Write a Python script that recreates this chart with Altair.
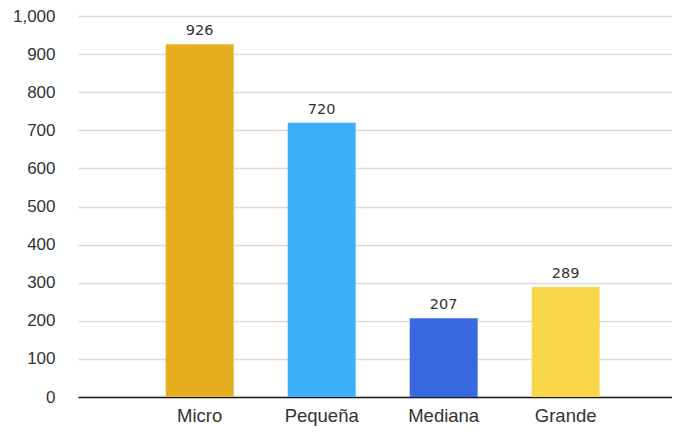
import altair as alt
import pandas as pd

categories = ["Micro", "Pequeña", "Mediana", "Grande"]
values = [926, 720, 207, 289]
colors = ["#E6AD1E", "#3CB0F8", "#3868E2", "#F8D84A"]
y_ticks = [0, 100, 200, 300, 400, 500, 600, 700, 800, 900, 1000]

df = pd.DataFrame({"cat": categories, "val": values})

x = alt.X(
    "cat:N",
    sort=categories,
    scale=alt.Scale(paddingInner=0.443, paddingOuter=0.656, align=0.548),
    axis=alt.Axis(
        title=None, labelAngle=0, ticks=False, domain=True,
        domainColor="#1a1a1a", domainWidth=1.5,
        labelFont="Liberation Sans", labelFontSize=18.5, labelColor="#333333",
        labelPadding=9,
    ),
)
y = alt.Y(
    "val:Q",
    scale=alt.Scale(domain=[0, 1000], nice=False),
    axis=alt.Axis(
        title=None, values=y_ticks, tickCount=20, format=",d", ticks=False, domain=False,
        grid=True, gridColor="#dadada", gridWidth=1.5, labelOverlap=False,
        labelFont="Liberation Sans", labelFontSize=17, labelColor="#333333",
        labelPadding=23,
    ),
)

bars = alt.Chart(df).mark_bar().encode(
    x=x,
    y=y,
    color=alt.Color("cat:N", sort=categories,
                    scale=alt.Scale(domain=categories, range=colors), legend=None),
)

labels = alt.Chart(df).mark_text(
    baseline="bottom", dy=-6, font="DejaVu Sans", fontSize=14.5, color="#333333"
).encode(
    x=x,
    y=y,
    text=alt.Text("val:Q", format=",d"),
)

chart = (bars + labels).properties(
    width=594, height=381,
    autosize=alt.AutoSizeParams(type="none"),
    padding={"left": 70, "top": 8, "right": 0, "bottom": 29},
).configure_view(stroke=None).configure_axisX(grid=False)

chart.save("out.html", embed_options={"renderer": "svg", "actions": False})
